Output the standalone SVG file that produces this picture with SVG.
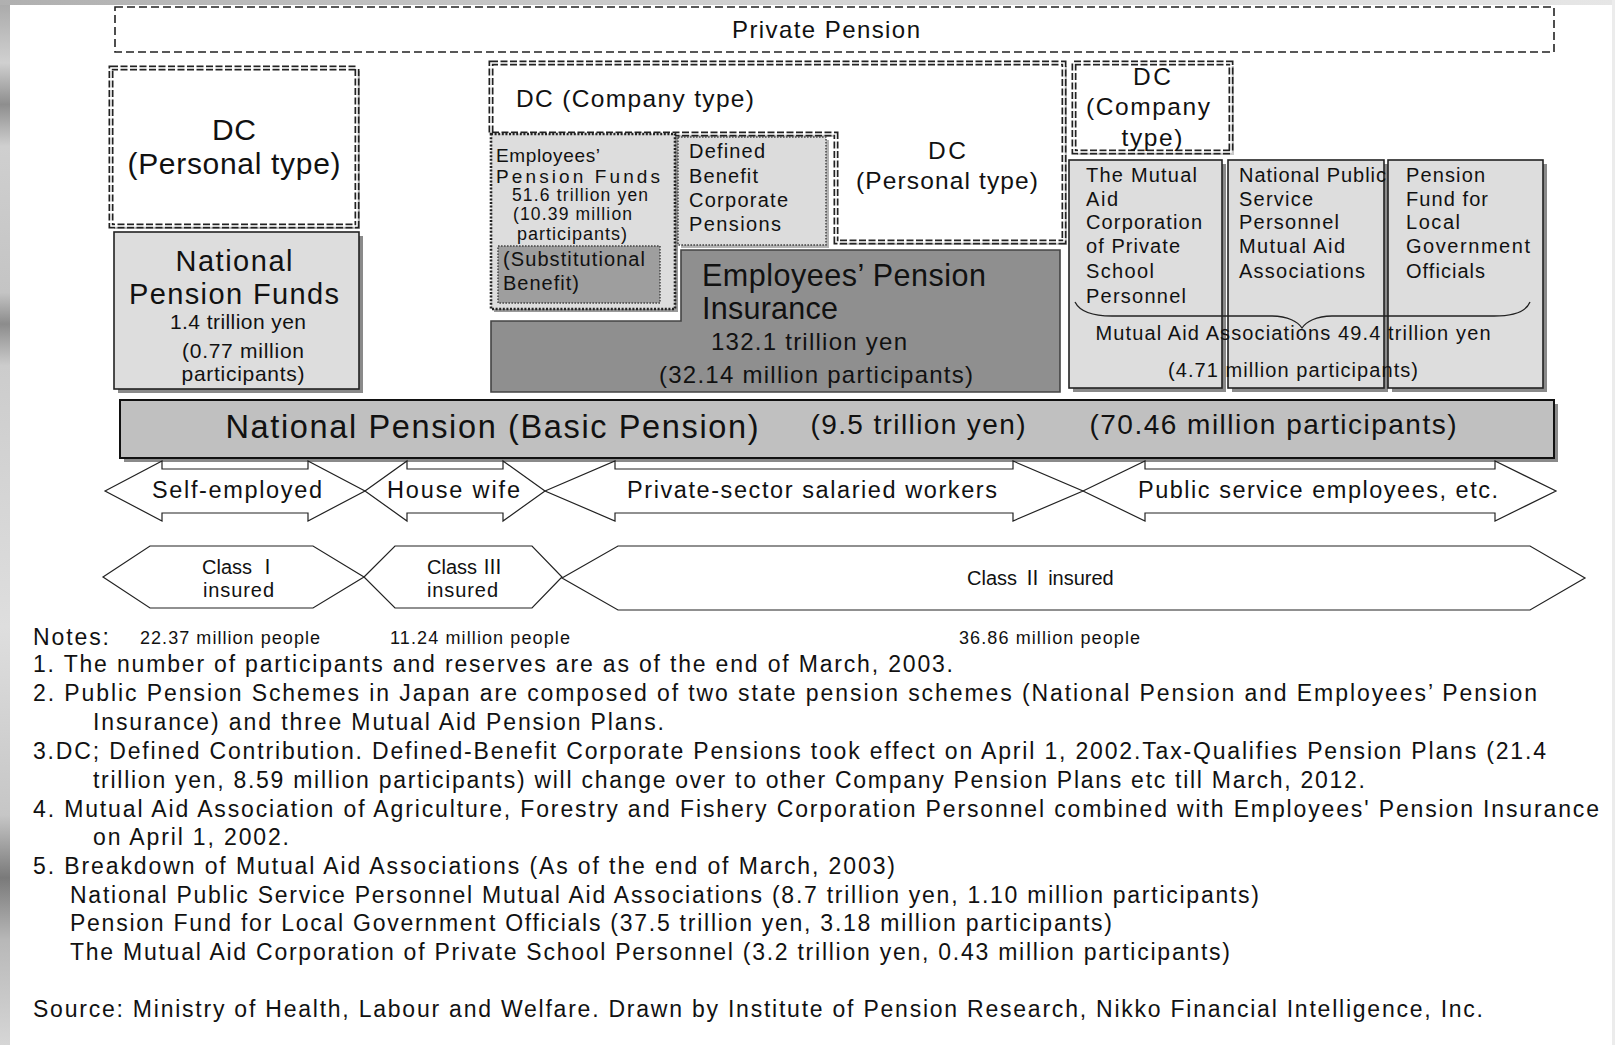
<svg xmlns="http://www.w3.org/2000/svg" width="1615" height="1045" viewBox="0 0 1615 1045">
<defs>
<linearGradient id="strip" x1="0" y1="0" x2="0" y2="1">
<stop offset="0" stop-color="#a8a8a8"/>
<stop offset="0.06" stop-color="#d0d0d0"/>
<stop offset="0.1" stop-color="#8e8e8e"/>
<stop offset="0.14" stop-color="#cfcfcf"/>
<stop offset="0.28" stop-color="#c4c4c4"/>
<stop offset="0.31" stop-color="#8c8c8c"/>
<stop offset="0.35" stop-color="#cccccc"/>
<stop offset="0.6" stop-color="#dedede"/>
<stop offset="0.78" stop-color="#c6c6c6"/>
<stop offset="0.84" stop-color="#7a7a7a"/>
<stop offset="0.9" stop-color="#b8b8b8"/>
<stop offset="1" stop-color="#d6d6d6"/>
</linearGradient>
<linearGradient id="topstrip" x1="0" y1="0" x2="1" y2="0">
<stop offset="0" stop-color="#b0b0b0"/>
<stop offset="0.5" stop-color="#d4d4d4"/>
<stop offset="1" stop-color="#e6e6e6"/>
</linearGradient>
</defs>
<style>
.t{font-family:"Liberation Sans",Arial,"Noto Sans CJK JP",sans-serif;fill:#111}
.m{text-anchor:middle}
.dd{fill:none;stroke:#222;stroke-width:5;stroke-dasharray:7 2.5}
.ddw{fill:none;stroke:#fff;stroke-width:1.6}
.dash{fill:none;stroke:#222;stroke-width:1.6;stroke-dasharray:8 4}
.light{fill:#dddddd;stroke:#222;stroke-width:1.6}
.shadow{fill:#8a8a8a;stroke:none}
.dot{stroke:#222;stroke-width:2.6;stroke-dasharray:2 1.6}
.dotthin{stroke:#444;stroke-width:1.5;stroke-dasharray:1.6 1.4}
.arr{fill:#fff;stroke:#222;stroke-width:1.2}
.rn{font-family:"Noto Sans CJK JP","DejaVu Serif",serif}
</style>
<rect x="0" y="0" width="1615" height="1045" fill="#fff"/>
<rect x="0" y="0" width="10" height="1045" fill="url(#strip)"/>
<rect x="0" y="0" width="1615" height="5" fill="url(#topstrip)"/>
<rect x="1612" y="0" width="3" height="1045" fill="#ececec"/>

<g id="private-pension">
<rect class="dash" x="115" y="7" width="1439" height="45"/>
<text class="t m" x="826" y="38" font-size="24" textLength="188">Private Pension</text>
</g>

<g id="dc-personal-left">
<rect x="114" y="71" width="246" height="158" fill="#bbb"/>
<rect x="111" y="68" width="246" height="158" fill="#fff"/>
<rect class="dd" x="111" y="68" width="246" height="158"/>
<rect class="ddw" x="111" y="68" width="246" height="158"/>
<text class="t m" x="234" y="140" font-size="30" textLength="44">DC</text>
<text class="t m" x="234" y="174" font-size="30" textLength="213">(Personal type)</text>
</g>

<g id="national-pension-funds">
<rect class="shadow" x="118" y="236" width="245" height="157"/>
<rect class="light" x="114" y="232" width="245" height="157"/>
<text class="t m" x="234" y="271" font-size="29" textLength="117">National</text>
<text class="t m" x="234" y="304" font-size="29" textLength="210">Pension Funds</text>
<text class="t m" x="238" y="329" font-size="21" textLength="136">1.4 trillion yen</text>
<text class="t m" x="243" y="358" font-size="21" textLength="122">(0.77 million</text>
<text class="t m" x="243" y="381" font-size="21" textLength="123">participants)</text>
</g>

<g id="dc-company">
<path d="M494,66 H1067 V245 H839 V137 H494 Z" fill="#c8c8c8"/>
<path d="M491,63 H1064 V242 H836 V134 H491 Z" fill="#fff"/>
<path class="dd" d="M491,63 H1064 V242 H836 V134 H491 Z"/>
<path class="ddw" d="M491,63 H1064 V242 H836 V134 H491 Z"/>
<text class="t" x="516" y="107" font-size="24.5" textLength="238">DC (Company type)</text>
</g>

<g id="dc-personal-mid">
<text class="t m" x="947" y="159" font-size="24.5" textLength="38">DC</text>
<text class="t m" x="947" y="189" font-size="24.5" textLength="182">(Personal type)</text>
</g>

<g id="employees-pension-insurance">
<path d="M681,250 H1060 V392 H491 V321 H681 Z" fill="#8f8f8f" stroke="#444" stroke-width="1.6"/>
<text class="t" x="702" y="286" font-size="30.5" textLength="284">Employees’ Pension</text>
<text class="t" x="702" y="319" font-size="30.5" textLength="136">Insurance</text>
<text class="t m" x="809" y="350" font-size="24" textLength="196">132.1 trillion yen</text>
<text class="t m" x="816" y="383" font-size="24" textLength="314">(32.14 million participants)</text>
</g>

<g id="employees-pension-funds">
<rect x="494" y="137" width="184" height="175" fill="#9a9a9a"/>
<rect class="dot" x="491" y="134" width="184" height="175" fill="#dddddd"/>
<text class="t" x="496" y="162" font-size="19" textLength="104">Employees’</text>
<text class="t" x="496" y="183" font-size="19" textLength="164">Pension Funds</text>
<text class="t" x="512" y="201" font-size="17.5" textLength="136">51.6 trillion yen</text>
<text class="t" x="513" y="220" font-size="17.5" textLength="119">(10.39 million</text>
<text class="t" x="517" y="240" font-size="18" textLength="110">participants)</text>
</g>

<g id="substitutional-benefit">
<rect class="dotthin" x="498" y="246" width="162" height="57" fill="#9e9e9e"/>
<text class="t" x="503" y="266" font-size="20" textLength="142">(Substitutional</text>
<text class="t" x="503" y="290" font-size="20" textLength="76">Benefit)</text>
</g>

<g id="defined-benefit">
<rect x="681" y="140" width="148" height="108" fill="#b4b4b4"/>
<rect class="dotthin" x="678" y="137" width="148" height="108" fill="#dcdcdc"/>
<text class="t" x="689" y="158" font-size="20" textLength="76">Defined</text>
<text class="t" x="689" y="183" font-size="20" textLength="69">Benefit</text>
<text class="t" x="689" y="207" font-size="20" textLength="99">Corporate</text>
<text class="t" x="689" y="231" font-size="20" textLength="92">Pensions</text>
</g>

<g id="dc-company-right">
<rect x="1077" y="66" width="157" height="89" fill="#c8c8c8"/>
<rect x="1074" y="63" width="157" height="89" fill="#fff"/>
<rect class="dd" x="1074" y="63" width="157" height="89"/>
<rect class="ddw" x="1074" y="63" width="157" height="89"/>
<text class="t m" x="1152" y="85" font-size="24.5" textLength="38">DC</text>
<text class="t m" x="1148" y="115" font-size="24.5" textLength="124">(Company</text>
<text class="t m" x="1152" y="146" font-size="24.5" textLength="61">type)</text>
</g>

<g id="private-school-mutual">
<rect class="shadow" x="1073" y="164" width="153" height="228"/>
<rect class="light" x="1069" y="160" width="153" height="228"/>
<text class="t" x="1086" y="182" font-size="20" textLength="111">The Mutual</text>
<text class="t" x="1086" y="206" font-size="20" textLength="32">Aid</text>
<text class="t" x="1086" y="229" font-size="20" textLength="116">Corporation</text>
<text class="t" x="1086" y="253" font-size="20" textLength="94">of Private</text>
<text class="t" x="1086" y="278" font-size="20" textLength="68">School</text>
<text class="t" x="1086" y="303" font-size="20" textLength="100">Personnel</text>
</g>

<g id="national-public-mutual">
<rect class="shadow" x="1232" y="164" width="156" height="228"/>
<rect class="light" x="1228" y="160" width="156" height="228"/>
<text class="t" x="1239" y="182" font-size="20" textLength="147">National Public</text>
<text class="t" x="1239" y="206" font-size="20" textLength="74">Service</text>
<text class="t" x="1239" y="229" font-size="20" textLength="100">Personnel</text>
<text class="t" x="1239" y="253" font-size="20" textLength="106">Mutual Aid</text>
<text class="t" x="1239" y="278" font-size="20" textLength="126">Associations</text>
</g>

<g id="local-government-fund">
<rect class="shadow" x="1392" y="164" width="155" height="228"/>
<rect class="light" x="1388" y="160" width="155" height="228"/>
<text class="t" x="1406" y="182" font-size="20" textLength="79">Pension</text>
<text class="t" x="1406" y="206" font-size="20" textLength="82">Fund for</text>
<text class="t" x="1406" y="229" font-size="20" textLength="54">Local</text>
<text class="t" x="1406" y="253" font-size="20" textLength="124">Government</text>
<text class="t" x="1406" y="278" font-size="20" textLength="79">Officials</text>
</g>

<g id="connectors">
<path d="M1075,302 C1080,312 1095,316 1112,316 H1272 C1288,316 1298,322 1302,328 C1306,322 1316,316 1332,316 H1494 C1511,316 1526,312 1530,302" fill="none" stroke="#222" stroke-width="1.3"/>
</g>

<g id="mutual-aid-total">
<text class="t m" x="1293" y="340" font-size="20" textLength="395">Mutual Aid Associations 49.4 trillion yen</text>
<text class="t m" x="1293" y="377" font-size="20" textLength="250">(4.71 million participants)</text>
</g>

<g id="national-pension">
<rect class="shadow" x="124" y="404" width="1434" height="58"/>
<rect x="120" y="400" width="1434" height="58" fill="#c0c0c0" stroke="#111" stroke-width="2"/>
<text class="t m" x="492" y="438" font-size="32.5" textLength="533">National Pension (Basic Pension)</text>
<text class="t m" x="918" y="434" font-size="28" textLength="215">(9.5 trillion yen)</text>
<text class="t m" x="1273" y="434" font-size="28" textLength="367">(70.46 million participants)</text>
</g>

<g id="self-employed">
<polygon class="arr" points="105,491 162,461 162,469 308,469 308,461 365,491 308,521 308,513 162,513 162,521"/>
<text class="t" x="152" y="498" font-size="23.5" textLength="170">Self-employed</text>
</g>
<g id="house-wife">
<polygon class="arr" points="365,491 407,461 407,469 503,469 503,461 545,491 503,521 503,513 407,513 407,521"/>
<text class="t" x="387" y="498" font-size="23.5" textLength="133">House wife</text>
</g>
<g id="private-sector">
<polygon class="arr" points="545,491 615,461 615,469 1013,469 1013,461 1083,491 1013,521 1013,513 615,513 615,521"/>
<text class="t" x="627" y="498" font-size="23.5" textLength="370">Private-sector salaried workers</text>
</g>
<g id="public-service">
<polygon class="arr" points="1083,491 1145,461 1145,469 1495,469 1495,461 1556,491 1495,521 1495,513 1145,513 1145,521"/>
<text class="t" x="1138" y="498" font-size="23.5" textLength="360">Public service employees, etc.</text>
</g>

<g id="class-1">
<polygon class="arr" points="103,577 150,546 313,546 364,577 313,608 150,608"/>
<text class="t" x="202" y="574" font-size="20">Class <tspan class="rn">Ⅰ</tspan></text>
<text class="t" x="203" y="597" font-size="20" textLength="71">insured</text>
</g>
<g id="class-3">
<polygon class="arr" points="364,577 395,546 532,546 562,577 532,608 395,608"/>
<text class="t" x="427" y="574" font-size="20">Class <tspan class="rn">Ⅲ</tspan></text>
<text class="t" x="427" y="597" font-size="20" textLength="71">insured</text>
</g>
<g id="class-2">
<polygon class="arr" points="562,578 618,546 1530,546 1585,578 1530,610 618,610"/>
<text class="t" x="967" y="585" font-size="20">Class <tspan class="rn">Ⅱ</tspan> insured</text>
</g>

<g id="notes">
<text class="t" x="33" y="645" font-size="23" textLength="76">Notes:</text>
<text class="t" x="140" y="644" font-size="18" textLength="180">22.37 million people</text>
<text class="t" x="390" y="644" font-size="18" textLength="180">11.24 million people</text>
<text class="t" x="959" y="644" font-size="18" textLength="181">36.86 million people</text>
<text class="t" x="33" y="672" font-size="23" textLength="920">1. The number of participants and reserves are as of the end of March, 2003.</text>
<text class="t" x="33" y="701" font-size="23" textLength="1504">2. Public Pension Schemes in Japan are composed of two state pension schemes (National Pension and Employees’ Pension</text>
<text class="t" x="93" y="730" font-size="23" textLength="571">Insurance) and three Mutual Aid Pension Plans.</text>
<text class="t" x="33" y="759" font-size="23" textLength="1513">3.DC; Defined Contribution. Defined-Benefit Corporate Pensions took effect on April 1, 2002.Tax-Qualifies Pension Plans (21.4</text>
<text class="t" x="93" y="788" font-size="23" textLength="1272">trillion yen, 8.59 million participants) will change over to other Company Pension Plans etc till March, 2012.</text>
<text class="t" x="33" y="817" font-size="23" textLength="1566">4. Mutual Aid Association of Agriculture, Forestry and Fishery Corporation Personnel combined with Employees' Pension Insurance</text>
<text class="t" x="93" y="845" font-size="23" textLength="196">on April 1, 2002.</text>
<text class="t" x="33" y="874" font-size="23" textLength="862">5. Breakdown of Mutual Aid Associations (As of the end of March, 2003)</text>
<text class="t" x="70" y="903" font-size="23" textLength="1189">National Public Service Personnel Mutual Aid Associations (8.7 trillion yen, 1.10 million participants)</text>
<text class="t" x="70" y="931" font-size="23" textLength="1042">Pension Fund for Local Government Officials (37.5 trillion yen, 3.18 million participants)</text>
<text class="t" x="70" y="960" font-size="23" textLength="1160">The Mutual Aid Corporation of Private School Personnel (3.2 trillion yen, 0.43 million participants)</text>
<text class="t" x="33" y="1017" font-size="23" textLength="1450">Source: Ministry of Health, Labour and Welfare. Drawn by Institute of Pension Research, Nikko Financial Intelligence, Inc.</text>
</g>
</svg>
